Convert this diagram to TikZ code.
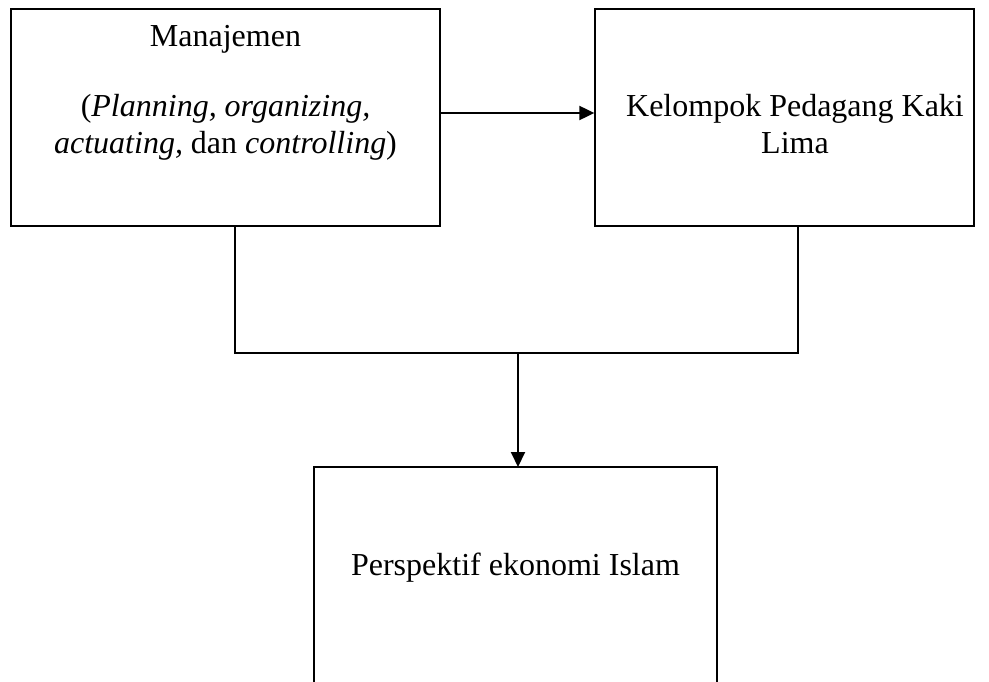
\documentclass[tikz,border=0pt]{standalone}
\usepackage{fontspec}
\setmainfont{Liberation Serif}
\usetikzlibrary{arrows.meta,positioning,calc}

\tikzset{
  box/.style={draw, line width=1.3pt, inner sep=0pt},
  txt/.style={font=\fontsize{32}{37}\selectfont, inner sep=0pt, anchor=base, align=center},
  link/.style={line width=1.3pt},
  arr/.style={line width=2pt, -{Triangle[length=15pt,width=14pt]}}
}

\begin{document}
\begin{tikzpicture}[x=1pt,y=-1pt]
\useasboundingbox (0,0) rectangle (989,682);

% Boxes on top
\node[box, minimum width=429pt, minimum height=217pt] (mgmt) at (225.5,117.5) {};
\node[box, minimum width=379pt, minimum height=217pt] (pkl) at (784.5,117.5) {};

% Texts (base = baseline of the last line)
\node[txt] (mgmttitle) at (225.5,47) {Manajemen};
\node[txt] (mgmtfunc) at (225.5,154) {(\textit{Planning, organizing,}\\\textit{actuating,} dan \textit{controlling})};
\node[txt] (pkltext) at (795,154) {Kelompok Pedagang Kaki\\Lima};

% Box at the bottom (cut off by the page)
\coordinate (islamtop) at (518,467);
\draw[link] (314,682) -- (314,467) -- (717,467) -- (717,682);
\node[txt] (islam) at (515.5,575) {Perspektif ekonomi Islam};

% Connectors
\coordinate (join) at (518,353);
\draw[arr] ([yshift=4.5pt]mgmt.east) -- ([yshift=4.5pt]mgmt.east -| pkl.west);
\draw[link] ([xshift=9.5pt]mgmt.south) |- (join) -| ([xshift=13.5pt]pkl.south);
\draw[arr] (join) -- (islamtop);
\end{tikzpicture}
\end{document}
